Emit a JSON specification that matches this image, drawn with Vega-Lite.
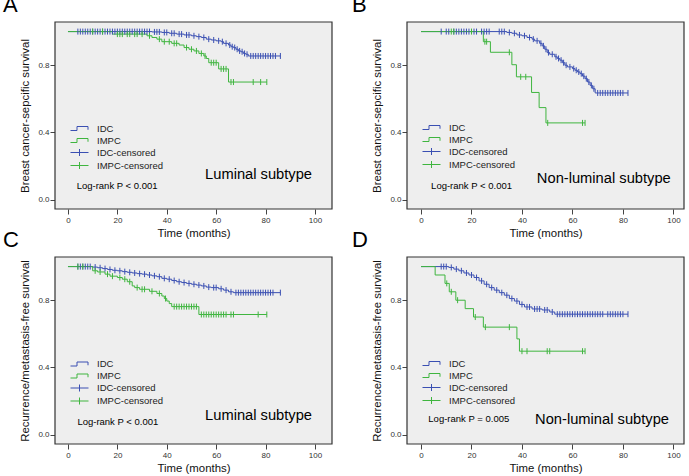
{
"$schema": "https://vega.github.io/schema/vega-lite/v6.json",
"autosize": {"type": "none"},
"padding": {"left": 55, "top": 22, "right": 634, "bottom": 454},
"background": "#ffffff",
"config": {
  "background": "#ffffff",
  "font": "Liberation Sans",
  "view": {"fill": null, "stroke": null},
  "axis": {"domain": false, "grid": false, "tickColor": "#444444", "tickSize": 5, "labelFontSize": 8, "labelColor": "#333333", "titleFontSize": 11.4, "titleFontWeight": "normal", "titleColor": "#111111", "labelOverlap": false},
  "axisY": {"labelPadding": 1, "titlePadding": 7},
  "axisX": {"labelPadding": 2, "titlePadding": 3},
  "title": {"fontSize": 22, "fontWeight": "normal", "color": "#000000", "anchor": "start", "frame": "group", "baseline": "alphabetic", "offset": 0},
  "legend": {"orient": "none", "legendX": 19, "legendY": 101, "padding": 0, "symbolSize": 100, "symbolStrokeWidth": 1, "labelFontSize": 9.5, "labelColor": "#222222", "labelOffset": 12, "rowPadding": 2}
},
"resolve": {"scale": {"color": "independent"}, "legend": {"color": "independent"}},
"columns": 2,
"spacing": {"row": 48, "column": 75},
"bounds": "flush",
"data": {"name": "km"},
"datasets": {"km": [
{"p":"A","g":"IDC","t":0,"s":1,"c":0},{"p":"A","g":"IDC","t":4,"s":1,"c":1},{"p":"A","g":"IDC","t":5,"s":1,"c":1},{"p":"A","g":"IDC","t":6,"s":1,"c":1},{"p":"A","g":"IDC","t":7,"s":1,"c":1},{"p":"A","g":"IDC","t":8,"s":1,"c":1},{"p":"A","g":"IDC","t":9,"s":1,"c":1},{"p":"A","g":"IDC","t":10,"s":1,"c":1},{"p":"A","g":"IDC","t":11,"s":1,"c":1},{"p":"A","g":"IDC","t":12,"s":1,"c":1},{"p":"A","g":"IDC","t":13,"s":1,"c":1},{"p":"A","g":"IDC","t":14,"s":1,"c":1},{"p":"A","g":"IDC","t":15,"s":1,"c":1},{"p":"A","g":"IDC","t":16,"s":1,"c":1},{"p":"A","g":"IDC","t":17,"s":1,"c":1},{"p":"A","g":"IDC","t":18,"s":1,"c":1},{"p":"A","g":"IDC","t":19,"s":1,"c":1},{"p":"A","g":"IDC","t":20,"s":1,"c":1},{"p":"A","g":"IDC","t":21,"s":1,"c":1},{"p":"A","g":"IDC","t":22,"s":1,"c":1},{"p":"A","g":"IDC","t":23,"s":1,"c":1},{"p":"A","g":"IDC","t":24,"s":1,"c":1},{"p":"A","g":"IDC","t":25,"s":1,"c":1},{"p":"A","g":"IDC","t":26,"s":1,"c":1},{"p":"A","g":"IDC","t":27,"s":1,"c":1},{"p":"A","g":"IDC","t":28,"s":1,"c":1},{"p":"A","g":"IDC","t":29,"s":1,"c":1},{"p":"A","g":"IDC","t":30,"s":1,"c":1},{"p":"A","g":"IDC","t":31,"s":1,"c":1},{"p":"A","g":"IDC","t":32,"s":1,"c":1},{"p":"A","g":"IDC","t":33,"s":1,"c":1},
{"p":"A","g":"IDC","t":34,"s":0.998,"c":0},{"p":"A","g":"IDC","t":35,"s":0.998,"c":1},{"p":"A","g":"IDC","t":36,"s":0.998,"c":1},{"p":"A","g":"IDC","t":37,"s":0.998,"c":1},
{"p":"A","g":"IDC","t":38,"s":0.995,"c":0},{"p":"A","g":"IDC","t":39,"s":0.995,"c":1},{"p":"A","g":"IDC","t":40,"s":0.995,"c":1},
{"p":"A","g":"IDC","t":41,"s":0.99,"c":0},{"p":"A","g":"IDC","t":42,"s":0.99,"c":1},{"p":"A","g":"IDC","t":43,"s":0.99,"c":1},
{"p":"A","g":"IDC","t":44,"s":0.985,"c":0},{"p":"A","g":"IDC","t":45,"s":0.985,"c":1},{"p":"A","g":"IDC","t":46,"s":0.985,"c":1},
{"p":"A","g":"IDC","t":47,"s":0.98,"c":0},{"p":"A","g":"IDC","t":48,"s":0.98,"c":1},{"p":"A","g":"IDC","t":49,"s":0.98,"c":1},
{"p":"A","g":"IDC","t":50,"s":0.975,"c":0},{"p":"A","g":"IDC","t":51,"s":0.975,"c":1},
{"p":"A","g":"IDC","t":52,"s":0.97,"c":0},{"p":"A","g":"IDC","t":53,"s":0.97,"c":1},
{"p":"A","g":"IDC","t":54,"s":0.965,"c":0},{"p":"A","g":"IDC","t":55,"s":0.965,"c":1},
{"p":"A","g":"IDC","t":56,"s":0.955,"c":0},{"p":"A","g":"IDC","t":57,"s":0.955,"c":1},
{"p":"A","g":"IDC","t":58,"s":0.95,"c":0},{"p":"A","g":"IDC","t":59,"s":0.95,"c":1},
{"p":"A","g":"IDC","t":60,"s":0.945,"c":0},{"p":"A","g":"IDC","t":61,"s":0.945,"c":1},
{"p":"A","g":"IDC","t":62,"s":0.94,"c":0},{"p":"A","g":"IDC","t":62.5,"s":0.94,"c":1},
{"p":"A","g":"IDC","t":63,"s":0.93,"c":0},{"p":"A","g":"IDC","t":64,"s":0.93,"c":1},
{"p":"A","g":"IDC","t":65,"s":0.92,"c":0},{"p":"A","g":"IDC","t":65.5,"s":0.92,"c":1},
{"p":"A","g":"IDC","t":66,"s":0.91,"c":0},{"p":"A","g":"IDC","t":66.5,"s":0.91,"c":1},
{"p":"A","g":"IDC","t":67,"s":0.905,"c":0},{"p":"A","g":"IDC","t":67.5,"s":0.905,"c":1},
{"p":"A","g":"IDC","t":68,"s":0.895,"c":0},{"p":"A","g":"IDC","t":68.5,"s":0.895,"c":1},
{"p":"A","g":"IDC","t":69,"s":0.885,"c":0},{"p":"A","g":"IDC","t":69.5,"s":0.885,"c":1},
{"p":"A","g":"IDC","t":70,"s":0.88,"c":0},{"p":"A","g":"IDC","t":70.5,"s":0.88,"c":1},
{"p":"A","g":"IDC","t":71,"s":0.87,"c":0},{"p":"A","g":"IDC","t":71.5,"s":0.87,"c":1},
{"p":"A","g":"IDC","t":72,"s":0.865,"c":0},{"p":"A","g":"IDC","t":72.5,"s":0.865,"c":1},
{"p":"A","g":"IDC","t":73,"s":0.855,"c":0},{"p":"A","g":"IDC","t":74,"s":0.855,"c":1},{"p":"A","g":"IDC","t":75,"s":0.855,"c":1},{"p":"A","g":"IDC","t":76,"s":0.855,"c":1},{"p":"A","g":"IDC","t":77,"s":0.855,"c":1},{"p":"A","g":"IDC","t":78,"s":0.855,"c":1},{"p":"A","g":"IDC","t":79,"s":0.855,"c":1},{"p":"A","g":"IDC","t":80,"s":0.855,"c":1},{"p":"A","g":"IDC","t":81,"s":0.855,"c":1},{"p":"A","g":"IDC","t":82,"s":0.855,"c":1},{"p":"A","g":"IDC","t":83,"s":0.855,"c":1},{"p":"A","g":"IDC","t":84,"s":0.855,"c":1},{"p":"A","g":"IDC","t":86,"s":0.855,"c":1},
{"p":"A","g":"IMPC","t":0,"s":1,"c":0},{"p":"A","g":"IMPC","t":10,"s":1,"c":1},{"p":"A","g":"IMPC","t":14,"s":1,"c":1},
{"p":"A","g":"IMPC","t":18,"s":0.985,"c":0},{"p":"A","g":"IMPC","t":20,"s":0.985,"c":1},{"p":"A","g":"IMPC","t":21,"s":0.985,"c":1},{"p":"A","g":"IMPC","t":22,"s":0.985,"c":1},{"p":"A","g":"IMPC","t":24,"s":0.985,"c":1},{"p":"A","g":"IMPC","t":25,"s":0.985,"c":1},{"p":"A","g":"IMPC","t":27,"s":0.985,"c":1},{"p":"A","g":"IMPC","t":28,"s":0.985,"c":1},{"p":"A","g":"IMPC","t":30,"s":0.985,"c":1},
{"p":"A","g":"IMPC","t":32,"s":0.975,"c":0},{"p":"A","g":"IMPC","t":33,"s":0.975,"c":1},
{"p":"A","g":"IMPC","t":34,"s":0.965,"c":0},
{"p":"A","g":"IMPC","t":36,"s":0.955,"c":0},{"p":"A","g":"IMPC","t":37,"s":0.955,"c":1},
{"p":"A","g":"IMPC","t":38,"s":0.94,"c":0},{"p":"A","g":"IMPC","t":39,"s":0.94,"c":1},{"p":"A","g":"IMPC","t":41,"s":0.94,"c":1},
{"p":"A","g":"IMPC","t":42,"s":0.93,"c":0},{"p":"A","g":"IMPC","t":43,"s":0.93,"c":1},{"p":"A","g":"IMPC","t":44,"s":0.93,"c":1},
{"p":"A","g":"IMPC","t":45,"s":0.92,"c":0},
{"p":"A","g":"IMPC","t":47,"s":0.905,"c":0},{"p":"A","g":"IMPC","t":48,"s":0.905,"c":1},
{"p":"A","g":"IMPC","t":49,"s":0.895,"c":0},{"p":"A","g":"IMPC","t":50,"s":0.895,"c":1},
{"p":"A","g":"IMPC","t":51,"s":0.885,"c":0},{"p":"A","g":"IMPC","t":52,"s":0.885,"c":1},
{"p":"A","g":"IMPC","t":53,"s":0.87,"c":0},{"p":"A","g":"IMPC","t":54,"s":0.87,"c":1},
{"p":"A","g":"IMPC","t":55,"s":0.855,"c":0},{"p":"A","g":"IMPC","t":55.5,"s":0.855,"c":1},
{"p":"A","g":"IMPC","t":56,"s":0.84,"c":0},
{"p":"A","g":"IMPC","t":57,"s":0.815,"c":0},{"p":"A","g":"IMPC","t":58,"s":0.815,"c":1},{"p":"A","g":"IMPC","t":59,"s":0.815,"c":1},{"p":"A","g":"IMPC","t":60,"s":0.815,"c":1},
{"p":"A","g":"IMPC","t":61,"s":0.778,"c":0},{"p":"A","g":"IMPC","t":62,"s":0.778,"c":1},{"p":"A","g":"IMPC","t":63,"s":0.778,"c":1},{"p":"A","g":"IMPC","t":64,"s":0.778,"c":1},
{"p":"A","g":"IMPC","t":65,"s":0.7,"c":0},{"p":"A","g":"IMPC","t":66,"s":0.7,"c":1},{"p":"A","g":"IMPC","t":67,"s":0.7,"c":1},{"p":"A","g":"IMPC","t":75,"s":0.7,"c":1},{"p":"A","g":"IMPC","t":78,"s":0.7,"c":1},{"p":"A","g":"IMPC","t":80.5,"s":0.7,"c":1},

{"p":"B","g":"IDC","t":0,"s":1,"c":0},{"p":"B","g":"IDC","t":8,"s":1,"c":1},{"p":"B","g":"IDC","t":10,"s":1,"c":1},{"p":"B","g":"IDC","t":11,"s":1,"c":1},{"p":"B","g":"IDC","t":13,"s":1,"c":1},{"p":"B","g":"IDC","t":14,"s":1,"c":1},{"p":"B","g":"IDC","t":15,"s":1,"c":1},{"p":"B","g":"IDC","t":16,"s":1,"c":1},{"p":"B","g":"IDC","t":17,"s":1,"c":1},{"p":"B","g":"IDC","t":18,"s":1,"c":1},{"p":"B","g":"IDC","t":19,"s":1,"c":1},{"p":"B","g":"IDC","t":21,"s":1,"c":1},{"p":"B","g":"IDC","t":22,"s":1,"c":1},{"p":"B","g":"IDC","t":24,"s":1,"c":1},{"p":"B","g":"IDC","t":25,"s":1,"c":1},{"p":"B","g":"IDC","t":26,"s":1,"c":1},{"p":"B","g":"IDC","t":27,"s":1,"c":1},{"p":"B","g":"IDC","t":31,"s":1,"c":1},{"p":"B","g":"IDC","t":32,"s":1,"c":1},{"p":"B","g":"IDC","t":33,"s":1,"c":1},
{"p":"B","g":"IDC","t":34,"s":0.995,"c":0},{"p":"B","g":"IDC","t":35,"s":0.995,"c":1},
{"p":"B","g":"IDC","t":36,"s":0.99,"c":0},{"p":"B","g":"IDC","t":37,"s":0.99,"c":1},
{"p":"B","g":"IDC","t":38,"s":0.98,"c":0},{"p":"B","g":"IDC","t":39,"s":0.98,"c":1},
{"p":"B","g":"IDC","t":40,"s":0.975,"c":0},{"p":"B","g":"IDC","t":41,"s":0.975,"c":1},
{"p":"B","g":"IDC","t":42,"s":0.965,"c":0},{"p":"B","g":"IDC","t":43,"s":0.965,"c":1},
{"p":"B","g":"IDC","t":44,"s":0.955,"c":0},{"p":"B","g":"IDC","t":44.5,"s":0.955,"c":1},
{"p":"B","g":"IDC","t":45,"s":0.945,"c":0},{"p":"B","g":"IDC","t":46,"s":0.945,"c":1},
{"p":"B","g":"IDC","t":47,"s":0.93,"c":0},{"p":"B","g":"IDC","t":47.5,"s":0.93,"c":1},
{"p":"B","g":"IDC","t":48,"s":0.915,"c":0},{"p":"B","g":"IDC","t":48.5,"s":0.915,"c":1},
{"p":"B","g":"IDC","t":49,"s":0.895,"c":0},{"p":"B","g":"IDC","t":49.5,"s":0.895,"c":1},
{"p":"B","g":"IDC","t":50,"s":0.875,"c":0},{"p":"B","g":"IDC","t":50.5,"s":0.875,"c":1},
{"p":"B","g":"IDC","t":51,"s":0.865,"c":0},{"p":"B","g":"IDC","t":52,"s":0.865,"c":1},
{"p":"B","g":"IDC","t":53,"s":0.85,"c":0},{"p":"B","g":"IDC","t":53.5,"s":0.85,"c":1},
{"p":"B","g":"IDC","t":54,"s":0.84,"c":0},{"p":"B","g":"IDC","t":54.5,"s":0.84,"c":1},
{"p":"B","g":"IDC","t":55,"s":0.83,"c":0},{"p":"B","g":"IDC","t":55.5,"s":0.83,"c":1},
{"p":"B","g":"IDC","t":56,"s":0.815,"c":0},{"p":"B","g":"IDC","t":56.5,"s":0.815,"c":1},
{"p":"B","g":"IDC","t":57,"s":0.8,"c":0},{"p":"B","g":"IDC","t":57.5,"s":0.8,"c":1},
{"p":"B","g":"IDC","t":58,"s":0.79,"c":0},{"p":"B","g":"IDC","t":59,"s":0.79,"c":1},
{"p":"B","g":"IDC","t":60,"s":0.78,"c":0},{"p":"B","g":"IDC","t":60.5,"s":0.78,"c":1},
{"p":"B","g":"IDC","t":61,"s":0.77,"c":0},{"p":"B","g":"IDC","t":61.5,"s":0.77,"c":1},
{"p":"B","g":"IDC","t":62,"s":0.76,"c":0},{"p":"B","g":"IDC","t":62.5,"s":0.76,"c":1},
{"p":"B","g":"IDC","t":63,"s":0.75,"c":0},{"p":"B","g":"IDC","t":63.5,"s":0.75,"c":1},
{"p":"B","g":"IDC","t":64,"s":0.735,"c":0},{"p":"B","g":"IDC","t":64.5,"s":0.735,"c":1},
{"p":"B","g":"IDC","t":65,"s":0.72,"c":0},{"p":"B","g":"IDC","t":65.5,"s":0.72,"c":1},
{"p":"B","g":"IDC","t":66,"s":0.7,"c":0},{"p":"B","g":"IDC","t":66.5,"s":0.7,"c":1},
{"p":"B","g":"IDC","t":67,"s":0.68,"c":0},{"p":"B","g":"IDC","t":67.5,"s":0.68,"c":1},
{"p":"B","g":"IDC","t":68,"s":0.66,"c":0},{"p":"B","g":"IDC","t":68.5,"s":0.66,"c":1},
{"p":"B","g":"IDC","t":69,"s":0.635,"c":0},{"p":"B","g":"IDC","t":70,"s":0.635,"c":1},{"p":"B","g":"IDC","t":71,"s":0.635,"c":1},{"p":"B","g":"IDC","t":72,"s":0.635,"c":1},{"p":"B","g":"IDC","t":73,"s":0.635,"c":1},{"p":"B","g":"IDC","t":74,"s":0.635,"c":1},{"p":"B","g":"IDC","t":75,"s":0.635,"c":1},{"p":"B","g":"IDC","t":76,"s":0.635,"c":1},{"p":"B","g":"IDC","t":77,"s":0.635,"c":1},{"p":"B","g":"IDC","t":78,"s":0.635,"c":1},{"p":"B","g":"IDC","t":79,"s":0.635,"c":1},{"p":"B","g":"IDC","t":80,"s":0.635,"c":1},{"p":"B","g":"IDC","t":82,"s":0.635,"c":1},
{"p":"B","g":"IMPC","t":0,"s":1,"c":0},{"p":"B","g":"IMPC","t":12,"s":1,"c":1},{"p":"B","g":"IMPC","t":13,"s":1,"c":1},{"p":"B","g":"IMPC","t":20,"s":1,"c":1},
{"p":"B","g":"IMPC","t":24.7,"s":0.94,"c":0},{"p":"B","g":"IMPC","t":25.3,"s":0.94,"c":1},{"p":"B","g":"IMPC","t":26,"s":0.94,"c":1},
{"p":"B","g":"IMPC","t":27.5,"s":0.877,"c":0},{"p":"B","g":"IMPC","t":35,"s":0.877,"c":1},
{"p":"B","g":"IMPC","t":36,"s":0.803,"c":0},
{"p":"B","g":"IMPC","t":37.8,"s":0.731,"c":0},{"p":"B","g":"IMPC","t":39.5,"s":0.731,"c":1},{"p":"B","g":"IMPC","t":41.5,"s":0.731,"c":1},
{"p":"B","g":"IMPC","t":43.8,"s":0.638,"c":0},
{"p":"B","g":"IMPC","t":46.8,"s":0.548,"c":0},
{"p":"B","g":"IMPC","t":49.5,"s":0.457,"c":0},{"p":"B","g":"IMPC","t":50.2,"s":0.457,"c":1},{"p":"B","g":"IMPC","t":64,"s":0.457,"c":1},{"p":"B","g":"IMPC","t":65,"s":0.457,"c":1},

{"p":"C","g":"IDC","t":0,"s":1,"c":0},{"p":"C","g":"IDC","t":4,"s":1,"c":1},{"p":"C","g":"IDC","t":5,"s":1,"c":1},{"p":"C","g":"IDC","t":6,"s":1,"c":1},{"p":"C","g":"IDC","t":7,"s":1,"c":1},{"p":"C","g":"IDC","t":8,"s":1,"c":1},{"p":"C","g":"IDC","t":9,"s":1,"c":1},
{"p":"C","g":"IDC","t":10,"s":0.997,"c":0},{"p":"C","g":"IDC","t":11,"s":0.997,"c":1},
{"p":"C","g":"IDC","t":12,"s":0.993,"c":0},{"p":"C","g":"IDC","t":13,"s":0.993,"c":1},
{"p":"C","g":"IDC","t":14,"s":0.988,"c":0},{"p":"C","g":"IDC","t":15,"s":0.988,"c":1},
{"p":"C","g":"IDC","t":16,"s":0.983,"c":0},{"p":"C","g":"IDC","t":17,"s":0.983,"c":1},
{"p":"C","g":"IDC","t":18,"s":0.978,"c":0},{"p":"C","g":"IDC","t":19,"s":0.978,"c":1},
{"p":"C","g":"IDC","t":20,"s":0.975,"c":0},{"p":"C","g":"IDC","t":21,"s":0.975,"c":1},
{"p":"C","g":"IDC","t":22,"s":0.97,"c":0},{"p":"C","g":"IDC","t":23,"s":0.97,"c":1},
{"p":"C","g":"IDC","t":24,"s":0.966,"c":0},{"p":"C","g":"IDC","t":25,"s":0.966,"c":1},
{"p":"C","g":"IDC","t":26,"s":0.962,"c":0},{"p":"C","g":"IDC","t":27,"s":0.962,"c":1},
{"p":"C","g":"IDC","t":28,"s":0.958,"c":0},{"p":"C","g":"IDC","t":29,"s":0.958,"c":1},
{"p":"C","g":"IDC","t":30,"s":0.955,"c":0},{"p":"C","g":"IDC","t":31,"s":0.955,"c":1},
{"p":"C","g":"IDC","t":32,"s":0.95,"c":0},{"p":"C","g":"IDC","t":33,"s":0.95,"c":1},
{"p":"C","g":"IDC","t":34,"s":0.945,"c":0},{"p":"C","g":"IDC","t":35,"s":0.945,"c":1},
{"p":"C","g":"IDC","t":36,"s":0.94,"c":0},{"p":"C","g":"IDC","t":37,"s":0.94,"c":1},
{"p":"C","g":"IDC","t":38,"s":0.93,"c":0},{"p":"C","g":"IDC","t":39,"s":0.93,"c":1},
{"p":"C","g":"IDC","t":40,"s":0.925,"c":0},{"p":"C","g":"IDC","t":41,"s":0.925,"c":1},
{"p":"C","g":"IDC","t":42,"s":0.917,"c":0},{"p":"C","g":"IDC","t":43,"s":0.917,"c":1},
{"p":"C","g":"IDC","t":44,"s":0.91,"c":0},{"p":"C","g":"IDC","t":45,"s":0.91,"c":1},
{"p":"C","g":"IDC","t":46,"s":0.905,"c":0},{"p":"C","g":"IDC","t":47,"s":0.905,"c":1},
{"p":"C","g":"IDC","t":48,"s":0.9,"c":0},{"p":"C","g":"IDC","t":49,"s":0.9,"c":1},
{"p":"C","g":"IDC","t":50,"s":0.895,"c":0},{"p":"C","g":"IDC","t":51,"s":0.895,"c":1},
{"p":"C","g":"IDC","t":52,"s":0.89,"c":0},{"p":"C","g":"IDC","t":53,"s":0.89,"c":1},
{"p":"C","g":"IDC","t":54,"s":0.885,"c":0},{"p":"C","g":"IDC","t":55,"s":0.885,"c":1},
{"p":"C","g":"IDC","t":56,"s":0.878,"c":0},{"p":"C","g":"IDC","t":57,"s":0.878,"c":1},
{"p":"C","g":"IDC","t":58,"s":0.875,"c":0},{"p":"C","g":"IDC","t":59,"s":0.875,"c":1},{"p":"C","g":"IDC","t":60,"s":0.875,"c":1},
{"p":"C","g":"IDC","t":61,"s":0.868,"c":0},{"p":"C","g":"IDC","t":62,"s":0.868,"c":1},
{"p":"C","g":"IDC","t":63,"s":0.86,"c":0},{"p":"C","g":"IDC","t":64,"s":0.86,"c":1},
{"p":"C","g":"IDC","t":65,"s":0.85,"c":0},{"p":"C","g":"IDC","t":66,"s":0.85,"c":1},
{"p":"C","g":"IDC","t":67,"s":0.845,"c":0},{"p":"C","g":"IDC","t":68,"s":0.845,"c":1},{"p":"C","g":"IDC","t":69,"s":0.845,"c":1},{"p":"C","g":"IDC","t":70,"s":0.845,"c":1},{"p":"C","g":"IDC","t":71,"s":0.845,"c":1},{"p":"C","g":"IDC","t":72,"s":0.845,"c":1},{"p":"C","g":"IDC","t":73,"s":0.845,"c":1},{"p":"C","g":"IDC","t":74,"s":0.845,"c":1},{"p":"C","g":"IDC","t":75,"s":0.845,"c":1},{"p":"C","g":"IDC","t":76,"s":0.845,"c":1},{"p":"C","g":"IDC","t":77,"s":0.845,"c":1},{"p":"C","g":"IDC","t":78,"s":0.845,"c":1},{"p":"C","g":"IDC","t":79,"s":0.845,"c":1},{"p":"C","g":"IDC","t":80,"s":0.845,"c":1},{"p":"C","g":"IDC","t":81,"s":0.845,"c":1},{"p":"C","g":"IDC","t":82,"s":0.845,"c":1},{"p":"C","g":"IDC","t":83,"s":0.845,"c":1},{"p":"C","g":"IDC","t":86,"s":0.845,"c":1},
{"p":"C","g":"IMPC","t":0,"s":1,"c":0},{"p":"C","g":"IMPC","t":4,"s":1,"c":1},{"p":"C","g":"IMPC","t":6,"s":1,"c":1},
{"p":"C","g":"IMPC","t":10,"s":0.975,"c":0},{"p":"C","g":"IMPC","t":11,"s":0.975,"c":1},
{"p":"C","g":"IMPC","t":12,"s":0.968,"c":0},{"p":"C","g":"IMPC","t":13,"s":0.968,"c":1},
{"p":"C","g":"IMPC","t":15,"s":0.955,"c":0},{"p":"C","g":"IMPC","t":16,"s":0.955,"c":1},
{"p":"C","g":"IMPC","t":17,"s":0.943,"c":0},{"p":"C","g":"IMPC","t":18,"s":0.943,"c":1},
{"p":"C","g":"IMPC","t":20,"s":0.935,"c":0},{"p":"C","g":"IMPC","t":21,"s":0.935,"c":1},
{"p":"C","g":"IMPC","t":22,"s":0.925,"c":0},{"p":"C","g":"IMPC","t":23,"s":0.925,"c":1},
{"p":"C","g":"IMPC","t":24,"s":0.91,"c":0},{"p":"C","g":"IMPC","t":25,"s":0.91,"c":1},
{"p":"C","g":"IMPC","t":26,"s":0.885,"c":0},
{"p":"C","g":"IMPC","t":27,"s":0.875,"c":0},{"p":"C","g":"IMPC","t":28,"s":0.875,"c":1},
{"p":"C","g":"IMPC","t":29,"s":0.865,"c":0},{"p":"C","g":"IMPC","t":30,"s":0.865,"c":1},{"p":"C","g":"IMPC","t":31,"s":0.865,"c":1},
{"p":"C","g":"IMPC","t":33,"s":0.853,"c":0},{"p":"C","g":"IMPC","t":34,"s":0.853,"c":1},
{"p":"C","g":"IMPC","t":36,"s":0.84,"c":0},{"p":"C","g":"IMPC","t":37,"s":0.84,"c":1},
{"p":"C","g":"IMPC","t":38,"s":0.825,"c":0},
{"p":"C","g":"IMPC","t":39,"s":0.81,"c":0},{"p":"C","g":"IMPC","t":39.5,"s":0.81,"c":1},
{"p":"C","g":"IMPC","t":40,"s":0.795,"c":0},
{"p":"C","g":"IMPC","t":41,"s":0.78,"c":0},
{"p":"C","g":"IMPC","t":42,"s":0.762,"c":0},{"p":"C","g":"IMPC","t":43,"s":0.762,"c":1},{"p":"C","g":"IMPC","t":44,"s":0.762,"c":1},{"p":"C","g":"IMPC","t":45,"s":0.762,"c":1},{"p":"C","g":"IMPC","t":46,"s":0.762,"c":1},{"p":"C","g":"IMPC","t":47,"s":0.762,"c":1},{"p":"C","g":"IMPC","t":48,"s":0.762,"c":1},{"p":"C","g":"IMPC","t":49,"s":0.762,"c":1},{"p":"C","g":"IMPC","t":50,"s":0.762,"c":1},{"p":"C","g":"IMPC","t":51,"s":0.762,"c":1},{"p":"C","g":"IMPC","t":52,"s":0.762,"c":1},
{"p":"C","g":"IMPC","t":53,"s":0.715,"c":0},{"p":"C","g":"IMPC","t":54,"s":0.715,"c":1},{"p":"C","g":"IMPC","t":55,"s":0.715,"c":1},{"p":"C","g":"IMPC","t":56,"s":0.715,"c":1},{"p":"C","g":"IMPC","t":57,"s":0.715,"c":1},{"p":"C","g":"IMPC","t":58,"s":0.715,"c":1},{"p":"C","g":"IMPC","t":59,"s":0.715,"c":1},{"p":"C","g":"IMPC","t":60,"s":0.715,"c":1},{"p":"C","g":"IMPC","t":61,"s":0.715,"c":1},{"p":"C","g":"IMPC","t":62,"s":0.715,"c":1},{"p":"C","g":"IMPC","t":63,"s":0.715,"c":1},{"p":"C","g":"IMPC","t":64,"s":0.715,"c":1},{"p":"C","g":"IMPC","t":66,"s":0.715,"c":1},{"p":"C","g":"IMPC","t":67,"s":0.715,"c":1},{"p":"C","g":"IMPC","t":77,"s":0.715,"c":1},{"p":"C","g":"IMPC","t":80.5,"s":0.715,"c":1},

{"p":"D","g":"IDC","t":0,"s":1,"c":0},{"p":"D","g":"IDC","t":8,"s":1,"c":1},{"p":"D","g":"IDC","t":9,"s":1,"c":1},{"p":"D","g":"IDC","t":10,"s":1,"c":1},
{"p":"D","g":"IDC","t":11,"s":0.995,"c":0},{"p":"D","g":"IDC","t":12,"s":0.995,"c":1},
{"p":"D","g":"IDC","t":13,"s":0.985,"c":0},{"p":"D","g":"IDC","t":14,"s":0.985,"c":1},
{"p":"D","g":"IDC","t":15,"s":0.975,"c":0},{"p":"D","g":"IDC","t":16,"s":0.975,"c":1},
{"p":"D","g":"IDC","t":17,"s":0.962,"c":0},{"p":"D","g":"IDC","t":18,"s":0.962,"c":1},
{"p":"D","g":"IDC","t":19,"s":0.95,"c":0},{"p":"D","g":"IDC","t":20,"s":0.95,"c":1},
{"p":"D","g":"IDC","t":21,"s":0.935,"c":0},{"p":"D","g":"IDC","t":22,"s":0.935,"c":1},
{"p":"D","g":"IDC","t":23,"s":0.915,"c":0},{"p":"D","g":"IDC","t":24,"s":0.915,"c":1},
{"p":"D","g":"IDC","t":25,"s":0.895,"c":0},{"p":"D","g":"IDC","t":26,"s":0.895,"c":1},
{"p":"D","g":"IDC","t":27,"s":0.875,"c":0},{"p":"D","g":"IDC","t":28,"s":0.875,"c":1},
{"p":"D","g":"IDC","t":29,"s":0.86,"c":0},{"p":"D","g":"IDC","t":30,"s":0.86,"c":1},
{"p":"D","g":"IDC","t":31,"s":0.845,"c":0},{"p":"D","g":"IDC","t":32,"s":0.845,"c":1},
{"p":"D","g":"IDC","t":33,"s":0.83,"c":0},{"p":"D","g":"IDC","t":34,"s":0.83,"c":1},
{"p":"D","g":"IDC","t":35,"s":0.81,"c":0},{"p":"D","g":"IDC","t":36,"s":0.81,"c":1},
{"p":"D","g":"IDC","t":37,"s":0.795,"c":0},{"p":"D","g":"IDC","t":38,"s":0.795,"c":1},
{"p":"D","g":"IDC","t":39,"s":0.775,"c":0},{"p":"D","g":"IDC","t":40,"s":0.775,"c":1},
{"p":"D","g":"IDC","t":41,"s":0.76,"c":0},{"p":"D","g":"IDC","t":42,"s":0.76,"c":1},{"p":"D","g":"IDC","t":43,"s":0.76,"c":1},
{"p":"D","g":"IDC","t":44,"s":0.748,"c":0},{"p":"D","g":"IDC","t":45,"s":0.748,"c":1},{"p":"D","g":"IDC","t":46,"s":0.748,"c":1},{"p":"D","g":"IDC","t":47,"s":0.748,"c":1},
{"p":"D","g":"IDC","t":48,"s":0.742,"c":0},{"p":"D","g":"IDC","t":49,"s":0.742,"c":1},{"p":"D","g":"IDC","t":50,"s":0.742,"c":1},
{"p":"D","g":"IDC","t":51,"s":0.73,"c":0},{"p":"D","g":"IDC","t":52,"s":0.73,"c":1},
{"p":"D","g":"IDC","t":53,"s":0.717,"c":0},{"p":"D","g":"IDC","t":54,"s":0.717,"c":1},{"p":"D","g":"IDC","t":55,"s":0.717,"c":1},{"p":"D","g":"IDC","t":56,"s":0.717,"c":1},{"p":"D","g":"IDC","t":57,"s":0.717,"c":1},{"p":"D","g":"IDC","t":58,"s":0.717,"c":1},{"p":"D","g":"IDC","t":59,"s":0.717,"c":1},{"p":"D","g":"IDC","t":60,"s":0.717,"c":1},{"p":"D","g":"IDC","t":61,"s":0.717,"c":1},{"p":"D","g":"IDC","t":62,"s":0.717,"c":1},{"p":"D","g":"IDC","t":63,"s":0.717,"c":1},{"p":"D","g":"IDC","t":64,"s":0.717,"c":1},{"p":"D","g":"IDC","t":65,"s":0.717,"c":1},{"p":"D","g":"IDC","t":66,"s":0.717,"c":1},{"p":"D","g":"IDC","t":67,"s":0.717,"c":1},{"p":"D","g":"IDC","t":68,"s":0.717,"c":1},{"p":"D","g":"IDC","t":69,"s":0.717,"c":1},{"p":"D","g":"IDC","t":70,"s":0.717,"c":1},{"p":"D","g":"IDC","t":71,"s":0.717,"c":1},{"p":"D","g":"IDC","t":72,"s":0.717,"c":1},{"p":"D","g":"IDC","t":74,"s":0.717,"c":1},{"p":"D","g":"IDC","t":75,"s":0.717,"c":1},{"p":"D","g":"IDC","t":76,"s":0.717,"c":1},{"p":"D","g":"IDC","t":77,"s":0.717,"c":1},{"p":"D","g":"IDC","t":78,"s":0.717,"c":1},{"p":"D","g":"IDC","t":79,"s":0.717,"c":1},{"p":"D","g":"IDC","t":80,"s":0.717,"c":1},{"p":"D","g":"IDC","t":82,"s":0.717,"c":1},
{"p":"D","g":"IMPC","t":0,"s":1,"c":0},
{"p":"D","g":"IMPC","t":5.6,"s":0.95,"c":0},
{"p":"D","g":"IMPC","t":9.5,"s":0.9,"c":0},{"p":"D","g":"IMPC","t":10.2,"s":0.9,"c":1},
{"p":"D","g":"IMPC","t":11.2,"s":0.85,"c":0},{"p":"D","g":"IMPC","t":12,"s":0.85,"c":1},
{"p":"D","g":"IMPC","t":13.8,"s":0.8,"c":0},{"p":"D","g":"IMPC","t":14.5,"s":0.8,"c":1},
{"p":"D","g":"IMPC","t":17.5,"s":0.75,"c":0},
{"p":"D","g":"IMPC","t":20.8,"s":0.7,"c":0},{"p":"D","g":"IMPC","t":21.5,"s":0.7,"c":1},
{"p":"D","g":"IMPC","t":24.7,"s":0.64,"c":0},{"p":"D","g":"IMPC","t":25.5,"s":0.64,"c":1},{"p":"D","g":"IMPC","t":35,"s":0.64,"c":1},
{"p":"D","g":"IMPC","t":38,"s":0.57,"c":0},
{"p":"D","g":"IMPC","t":39,"s":0.497,"c":0},{"p":"D","g":"IMPC","t":40,"s":0.497,"c":1},{"p":"D","g":"IMPC","t":42,"s":0.497,"c":1},{"p":"D","g":"IMPC","t":50,"s":0.497,"c":1},{"p":"D","g":"IMPC","t":51,"s":0.497,"c":1},{"p":"D","g":"IMPC","t":64,"s":0.497,"c":1},{"p":"D","g":"IMPC","t":65,"s":0.497,"c":1}
]},
"concat": [
{
  "width": 277, "height": 187,
  "title": {"text": "A", "dx": -52},
  "layer": [
    {"data": {"values": [{}]}, "mark": {"type": "rect", "fill": "#eeeeee", "stroke": "#333333", "strokeWidth": 1.2},
     "encoding": {"x": {"datum": -5.26, "type": "quantitative", "scale": {"domain": [-5.26, 106.9], "nice": false, "zero": false}, "axis": {"values": [0, 20, 40, 60, 80, 100], "title": "Time (months)"}}, "x2": {"datum": 106.9}, "y": {"datum": -0.055, "type": "quantitative", "scale": {"domain": [-0.055, 1.057], "nice": false, "zero": false}, "axis": {"values": [0, 0.2, 0.4, 0.6, 0.8, 1], "format": ".1f", "title": "Breast cancer-sepcific survival"}}, "y2": {"datum": 1.057}}},
    {"transform": [{"filter": "datum.p === 'A'"}],
     "mark": {"type": "line", "interpolate": "step-after", "strokeWidth": 1},
     "encoding": {
       "x": {"field": "t", "type": "quantitative"},
       "y": {"field": "s", "type": "quantitative"},
       "color": {"field": "g", "type": "nominal", "scale": {"domain": ["IDC", "IMPC", "IDC-censored", "IMPC-censored"], "range": ["#3a4fb2", "#3fb53f", "#3a4fb2", "#3fb53f"]},
         "legend": {"title": null, "encode": {"symbols": {"update": {"shape": {"signal": "test(/censored/, datum.value) ? 'M-1.8,0H1.8M0,-0.7V0.7' : 'M-1.8,0.4H-0.5V-0.4H1.7V0.25'"}, "stroke": {"signal": "test(/IDC/, datum.value) ? '#4a5fc0' : '#3fb53f'"}, "fill": {"value": "transparent"}}}}}}
     }},
    {"transform": [{"filter": "datum.p === 'A' && datum.c === 1"}],
     "mark": {"type": "point", "shape": "M0,-1L0,1", "size": 36, "filled": false, "strokeWidth": 1, "opacity": 1},
     "encoding": {"x": {"field": "t", "type": "quantitative"}, "y": {"field": "s", "type": "quantitative"}, "color": {"field": "g", "type": "nominal", "legend": null}}},
    {"data": {"values": [{}]}, "mark": {"type": "text", "align": "left", "baseline": "alphabetic", "fontSize": 14.7, "color": "#000"},
     "encoding": {"x": {"datum": 55.5, "type": "quantitative"}, "y": {"datum": 0.123, "type": "quantitative"}, "text": {"value": "Luminal subtype"}}},
    {"data": {"values": [{}]}, "mark": {"type": "text", "align": "left", "baseline": "alphabetic", "fontSize": 9.5, "color": "#000"},
     "encoding": {"x": {"datum": 3.5, "type": "quantitative"}, "y": {"datum": 0.064, "type": "quantitative"}, "text": {"value": "Log-rank P < 0.001"}}}
  ]
},
{
  "width": 277, "height": 187,
  "title": {"text": "B", "dx": -55},
  "layer": [
    {"data": {"values": [{}]}, "mark": {"type": "rect", "fill": "#eeeeee", "stroke": "#333333", "strokeWidth": 1.2},
     "encoding": {"x": {"datum": -5.55, "type": "quantitative", "scale": {"domain": [-5.55, 104.2], "nice": false, "zero": false}, "axis": {"values": [0, 20, 40, 60, 80, 100], "title": "Time (months)"}}, "x2": {"datum": 104.2}, "y": {"datum": -0.055, "type": "quantitative", "scale": {"domain": [-0.055, 1.057], "nice": false, "zero": false}, "axis": {"values": [0, 0.2, 0.4, 0.6, 0.8, 1], "format": ".1f", "title": "Breast cancer-sepcific survival"}}, "y2": {"datum": 1.057}}},
    {"transform": [{"filter": "datum.p === 'B'"}],
     "mark": {"type": "line", "interpolate": "step-after", "strokeWidth": 1},
     "encoding": {
       "x": {"field": "t", "type": "quantitative"},
       "y": {"field": "s", "type": "quantitative"},
       "color": {"field": "g", "type": "nominal", "scale": {"domain": ["IDC", "IMPC", "IDC-censored", "IMPC-censored"], "range": ["#3a4fb2", "#3fb53f", "#3a4fb2", "#3fb53f"]},
         "legend": {"title": null, "legendY": 100, "encode": {"symbols": {"update": {"shape": {"signal": "test(/censored/, datum.value) ? 'M-1.8,0H1.8M0,-0.7V0.7' : 'M-1.8,0.4H-0.5V-0.4H1.7V0.25'"}, "stroke": {"signal": "test(/IDC/, datum.value) ? '#4a5fc0' : '#3fb53f'"}, "fill": {"value": "transparent"}}}}}}
     }},
    {"transform": [{"filter": "datum.p === 'B' && datum.c === 1"}],
     "mark": {"type": "point", "shape": "M0,-1L0,1", "size": 36, "filled": false, "strokeWidth": 1, "opacity": 1},
     "encoding": {"x": {"field": "t", "type": "quantitative"}, "y": {"field": "s", "type": "quantitative"}, "color": {"field": "g", "type": "nominal", "legend": null}}},
    {"data": {"values": [{}]}, "mark": {"type": "text", "align": "left", "baseline": "alphabetic", "fontSize": 14.7, "color": "#000"},
     "encoding": {"x": {"datum": 45.9, "type": "quantitative"}, "y": {"datum": 0.097, "type": "quantitative"}, "text": {"value": "Non-luminal subtype"}}},
    {"data": {"values": [{}]}, "mark": {"type": "text", "align": "left", "baseline": "alphabetic", "fontSize": 9.5, "color": "#000"},
     "encoding": {"x": {"datum": 4, "type": "quantitative"}, "y": {"datum": 0.064, "type": "quantitative"}, "text": {"value": "Log-rank P < 0.001"}}}
  ]
},
{
  "width": 277, "height": 187,
  "title": {"text": "C", "dx": -52},
  "layer": [
    {"data": {"values": [{}]}, "mark": {"type": "rect", "fill": "#eeeeee", "stroke": "#333333", "strokeWidth": 1.2},
     "encoding": {"x": {"datum": -5.26, "type": "quantitative", "scale": {"domain": [-5.26, 106.9], "nice": false, "zero": false}, "axis": {"values": [0, 20, 40, 60, 80, 100], "title": "Time (months)"}}, "x2": {"datum": 106.9}, "y": {"datum": -0.055, "type": "quantitative", "scale": {"domain": [-0.055, 1.057], "nice": false, "zero": false}, "axis": {"values": [0, 0.2, 0.4, 0.6, 0.8, 1], "format": ".1f", "title": "Recurrence/metastasis-free survival"}}, "y2": {"datum": 1.057}}},
    {"transform": [{"filter": "datum.p === 'C'"}],
     "mark": {"type": "line", "interpolate": "step-after", "strokeWidth": 1},
     "encoding": {
       "x": {"field": "t", "type": "quantitative"},
       "y": {"field": "s", "type": "quantitative"},
       "color": {"field": "g", "type": "nominal", "scale": {"domain": ["IDC", "IMPC", "IDC-censored", "IMPC-censored"], "range": ["#3a4fb2", "#3fb53f", "#3a4fb2", "#3fb53f"]},
         "legend": {"title": null, "legendY": 101.5, "encode": {"symbols": {"update": {"shape": {"signal": "test(/censored/, datum.value) ? 'M-1.8,0H1.8M0,-0.7V0.7' : 'M-1.8,0.4H-0.5V-0.4H1.7V0.25'"}, "stroke": {"signal": "test(/IDC/, datum.value) ? '#4a5fc0' : '#3fb53f'"}, "fill": {"value": "transparent"}}}}}}
     }},
    {"transform": [{"filter": "datum.p === 'C' && datum.c === 1"}],
     "mark": {"type": "point", "shape": "M0,-1L0,1", "size": 36, "filled": false, "strokeWidth": 1, "opacity": 1},
     "encoding": {"x": {"field": "t", "type": "quantitative"}, "y": {"field": "s", "type": "quantitative"}, "color": {"field": "g", "type": "nominal", "legend": null}}},
    {"data": {"values": [{}]}, "mark": {"type": "text", "align": "left", "baseline": "alphabetic", "fontSize": 14.7, "color": "#000"},
     "encoding": {"x": {"datum": 55.5, "type": "quantitative"}, "y": {"datum": 0.089, "type": "quantitative"}, "text": {"value": "Luminal subtype"}}},
    {"data": {"values": [{}]}, "mark": {"type": "text", "align": "left", "baseline": "alphabetic", "fontSize": 9.5, "color": "#000"},
     "encoding": {"x": {"datum": 3.8, "type": "quantitative"}, "y": {"datum": 0.06, "type": "quantitative"}, "text": {"value": "Log-rank P < 0.001"}}}
  ]
},
{
  "width": 277, "height": 187,
  "title": {"text": "D", "dx": -55},
  "layer": [
    {"data": {"values": [{}]}, "mark": {"type": "rect", "fill": "#eeeeee", "stroke": "#333333", "strokeWidth": 1.2},
     "encoding": {"x": {"datum": -5.55, "type": "quantitative", "scale": {"domain": [-5.55, 104.2], "nice": false, "zero": false}, "axis": {"values": [0, 20, 40, 60, 80, 100], "title": "Time (months)"}}, "x2": {"datum": 104.2}, "y": {"datum": -0.055, "type": "quantitative", "scale": {"domain": [-0.055, 1.057], "nice": false, "zero": false}, "axis": {"values": [0, 0.2, 0.4, 0.6, 0.8, 1], "format": ".1f", "title": "Recurrence/metastasis-free survival"}}, "y2": {"datum": 1.057}}},
    {"transform": [{"filter": "datum.p === 'D'"}],
     "mark": {"type": "line", "interpolate": "step-after", "strokeWidth": 1},
     "encoding": {
       "x": {"field": "t", "type": "quantitative"},
       "y": {"field": "s", "type": "quantitative"},
       "color": {"field": "g", "type": "nominal", "scale": {"domain": ["IDC", "IMPC", "IDC-censored", "IMPC-censored"], "range": ["#3a4fb2", "#3fb53f", "#3a4fb2", "#3fb53f"]},
         "legend": {"title": null, "legendY": 101, "encode": {"symbols": {"update": {"shape": {"signal": "test(/censored/, datum.value) ? 'M-1.8,0H1.8M0,-0.7V0.7' : 'M-1.8,0.4H-0.5V-0.4H1.7V0.25'"}, "stroke": {"signal": "test(/IDC/, datum.value) ? '#4a5fc0' : '#3fb53f'"}, "fill": {"value": "transparent"}}}}}}
     }},
    {"transform": [{"filter": "datum.p === 'D' && datum.c === 1"}],
     "mark": {"type": "point", "shape": "M0,-1L0,1", "size": 36, "filled": false, "strokeWidth": 1, "opacity": 1},
     "encoding": {"x": {"field": "t", "type": "quantitative"}, "y": {"field": "s", "type": "quantitative"}, "color": {"field": "g", "type": "nominal", "legend": null}}},
    {"data": {"values": [{}]}, "mark": {"type": "text", "align": "left", "baseline": "alphabetic", "fontSize": 14.7, "color": "#000"},
     "encoding": {"x": {"datum": 45.2, "type": "quantitative"}, "y": {"datum": 0.063, "type": "quantitative"}, "text": {"value": "Non-luminal subtype"}}},
    {"data": {"values": [{}]}, "mark": {"type": "text", "align": "left", "baseline": "alphabetic", "fontSize": 9.5, "color": "#000"},
     "encoding": {"x": {"datum": 2.9, "type": "quantitative"}, "y": {"datum": 0.077, "type": "quantitative"}, "text": {"value": "Log-rank P = 0.005"}}}
  ]
}
]
}
